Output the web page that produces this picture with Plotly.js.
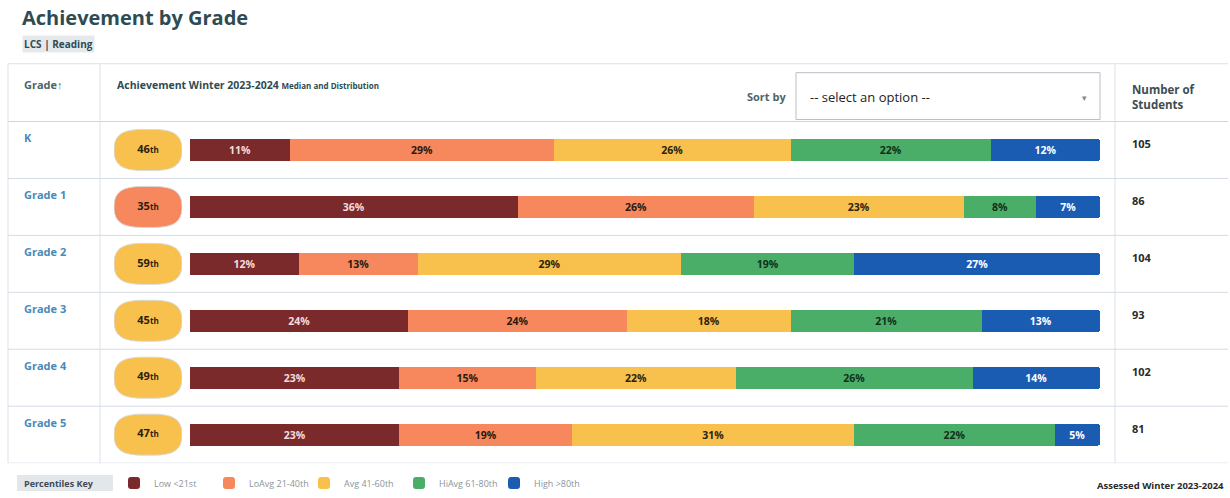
<!DOCTYPE html>
<html>
<head>
<meta charset="utf-8">
<script src="https://cdn.plot.ly/plotly-3.0.1.min.js"></script>
<style>html,body{margin:0;padding:0;background:#fff;}#chart{width:1230px;height:498px;}</style>
</head>
<body>
<div id="chart"></div>
<script>
// ---- data ----
const grades = ['K', 'Grade 1', 'Grade 2', 'Grade 3', 'Grade 4', 'Grade 5'];
const medians = [46, 35, 59, 45, 49, 47];
const students = [105, 86, 104, 93, 102, 81];
const low = [11, 36, 12, 24, 23, 23];
const loAvg = [29, 26, 13, 24, 15, 19];
const avg = [26, 23, 29, 18, 22, 31];
const hiAvg = [22, 8, 19, 21, 26, 22];
const high = [12, 7, 27, 13, 14, 5];
const bandNames = ['Low <21st', 'LoAvg 21-40th', 'Avg 41-60th', 'HiAvg 61-80th', 'High >80th'];
const bandUpper = [20, 40, 60, 80, 100];

// ---- styling ----
const W = 1230, H = 498;
const px = v => v / W, py = v => 1 - v / H;
const bandColors = ['#7b2a2b', '#f7875c', '#f8c04d', '#4aae68', '#1b5cb3'];
const bandText = ['#f3dcdc', '#2a1a10', '#2a2410', '#123018', '#ffffff'];
const series = [low, loAvg, avg, hiAvg, high];
const titleColor = '#2f4b52';
const gradeColor = '#4a8ab8';
const lineColor = '#dde2e7';

const traces = series.map((vals, k) => ({
  type: 'bar', orientation: 'h', name: bandNames[k],
  x: vals, y: grades, xaxis: 'x', yaxis: 'y', width: 0.39,
  marker: {color: bandColors[k], line: {width: 0}},
  text: vals.map(v => v + '%'), textposition: 'inside', insidetextanchor: 'middle',
  textangle: 0, constraintext: 'none',
  textfont: {family: 'Open Sans', size: 10.5, color: bandText[k], weight: 'bold'},
  hoverinfo: 'skip', showlegend: true
}));

// median labels inside ovals
traces.push({
  type: 'scatter', mode: 'text', x: grades.map(() => 0.5), y: grades,
  xaxis: 'x2', yaxis: 'y',
  text: medians.map(m => '<b>' + m + '<span style="font-size:8px">th</span></b>'),
  textfont: {family: 'Open Sans', size: 11, color: '#2b2010'},
  hoverinfo: 'skip', showlegend: false
});

function bandIndex(m) { return bandUpper.findIndex(u => m <= u); }

// rounded "pill" path in x2 / y data units
function pill(i) {
  const x0 = 0, x1 = 1, y0 = i - 0.36, y1 = i + 0.36, rx = 0.42, ry = 0.36, k = 0.72;
  return `M ${x0 + rx} ${y0} L ${x1 - rx} ${y0} ` +
    `C ${x1 - rx + rx * k} ${y0} ${x1} ${y0 + ry - ry * k} ${x1} ${y0 + ry} ` +
    `L ${x1} ${y1 - ry} ` +
    `C ${x1} ${y1 - ry + ry * k} ${x1 - rx + rx * k} ${y1} ${x1 - rx} ${y1} ` +
    `L ${x0 + rx} ${y1} ` +
    `C ${x0 + rx - rx * k} ${y1} ${x0} ${y1 - ry + ry * k} ${x0} ${y1 - ry} ` +
    `L ${x0} ${y0 + ry} ` +
    `C ${x0} ${y0 + ry - ry * k} ${x0 + rx - rx * k} ${y0} ${x0 + rx} ${y0} Z`;
}

const shapes = [];
// table lines
const rowTop = 122, rowBottom = 465;
shapes.push({type: 'line', xref: 'paper', yref: 'paper', x0: px(8), x1: px(1228), y0: py(64), y1: py(64), line: {color: lineColor, width: 1}});
shapes.push({type: 'line', xref: 'paper', yref: 'paper', x0: px(8), x1: px(1228), y0: py(rowTop), y1: py(rowTop), line: {color: '#cfd5db', width: 1}});
[8, 100, 1115].forEach(x => shapes.push({type: 'line', xref: 'paper', yref: 'paper', x0: px(x), x1: px(x), y0: py(64), y1: py(rowBottom), line: {color: lineColor, width: 1}}));
grades.forEach((g, i) => {
  shapes.push({type: 'line', xref: 'paper', yref: 'y', x0: px(8), x1: px(1228), y0: i + 0.5, y1: i + 0.5, line: {color: '#d4dbe6', width: 1}});
  const b = bandIndex(medians[i]);
  shapes.push({type: 'path', xref: 'x2', yref: 'y', path: pill(i),
    fillcolor: bandColors[b], line: {color: '#d9d9d9', width: 1}, layer: 'below'});
});
// sort dropdown box
shapes.push({type: 'rect', xref: 'paper', yref: 'paper', x0: px(796), x1: px(1100), y0: py(120), y1: py(73), line: {color: '#b9bec4', width: 1}, fillcolor: '#ffffff'});
// legend title background
shapes.push({type: 'rect', xref: 'paper', yref: 'paper', x0: px(17), x1: px(113), y0: py(493), y1: py(477), line: {width: 0}, fillcolor: '#e4e7ea', layer: 'below'});

const annotations = [];
const A = (o) => annotations.push(Object.assign({xref: 'paper', yref: 'paper', showarrow: false, xanchor: 'left', yanchor: 'middle'}, o));
A({x: px(22), y: py(44), text: '<b>LCS | Reading</b>', font: {family: 'Open Sans', size: 10, color: titleColor}, bgcolor: '#e6e9eb'});
A({x: px(22), y: py(85), text: '<b>Grade↑</b>', font: {family: 'Open Sans', size: 11, color: '#4d6469'}});
A({x: px(115), y: py(85), text: '<b>Achievement Winter 2023-2024 <span style="font-size:8px">Median and Distribution</span></b>', font: {family: 'Open Sans', size: 10.5, color: titleColor}});
A({x: px(788), y: py(97), xanchor: 'right', text: '<b>Sort by</b>', font: {family: 'Open Sans', size: 11, color: '#4d6469'}});
A({x: px(808), y: py(97), text: '-- select an option --', font: {family: 'Open Sans', size: 13, color: '#222222'}});
A({x: px(1084), y: py(98), xanchor: 'center', text: '▾', font: {family: 'DejaVu Sans', size: 9, color: '#888888'}});
A({x: px(1130), y: py(97), text: '<b>Number of<br>Students</b>', font: {family: 'Open Sans', size: 11.5, color: '#3d4d52'}, align: 'left'});
A({x: px(1226), y: py(487), xanchor: 'right', text: '<b>Assessed Winter 2023-2024</b>', font: {family: 'Open Sans', size: 9.5, color: '#2a2a2a'}});
A({x: px(22), y: py(485), text: '<b>Percentiles Key</b>', font: {family: 'Open Sans', size: 9, color: '#3e4a55'}});
grades.forEach((g, i) => {
  A({x: px(22), y: i, yref: 'y', yshift: 12, text: '<b>' + g + '</b>', font: {family: 'Open Sans', size: 11, color: gradeColor}});
  A({x: px(1130), y: i, yref: 'y', yshift: 6, text: '<b>' + students[i] + '</b>', font: {family: 'Open Sans', size: 11, color: '#2a2a2a'}});
});

const layout = {
  width: W, height: H, margin: {l: 0, r: 0, t: 0, b: 0},
  paper_bgcolor: '#ffffff', plot_bgcolor: 'rgba(0,0,0,0)',
  barmode: 'stack', barcornerradius: 3,
  title: {text: '<b>Achievement by Grade</b>', x: px(22), xanchor: 'left', xref: 'paper', y: py(18), yanchor: 'middle',
    font: {family: 'Open Sans', size: 20, color: titleColor}},
  xaxis: {domain: [px(190), px(1100)], range: [0, 100], visible: false, fixedrange: true},
  xaxis2: {domain: [px(114), px(182)], range: [0, 1], visible: false, fixedrange: true},
  yaxis: {domain: [py(rowBottom), py(rowTop)], type: 'category', categoryarray: grades, categoryorder: 'array',
    range: [5.5, -0.5], visible: false, fixedrange: true},
  showlegend: true,
  legend: {orientation: 'h', x: px(114), y: py(485), xanchor: 'left', yanchor: 'middle',
    font: {family: 'Open Sans', size: 9, color: '#8b949a'}, itemwidth: 30, traceorder: 'normal',
    entrywidth: 50, entrywidthmode: 'pixels', bgcolor: 'rgba(0,0,0,0)'},
  shapes: shapes, annotations: annotations,
  hovermode: false
};

Plotly.newPlot('chart', traces, layout, {displayModeBar: false, staticPlot: true});
</script>
</body>
</html>
